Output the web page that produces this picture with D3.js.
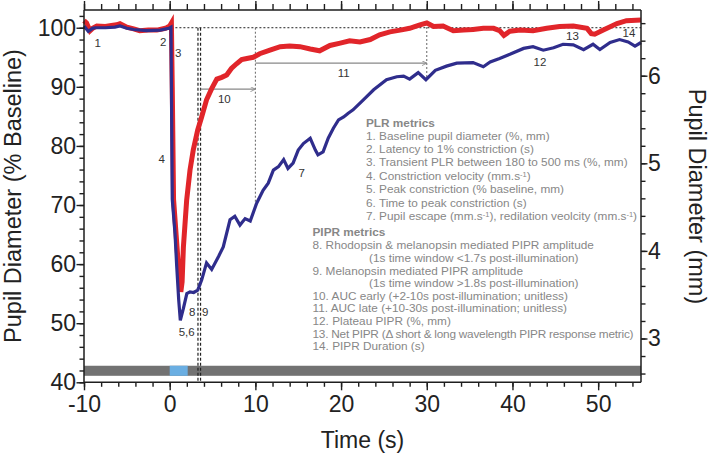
<!DOCTYPE html>
<html>
<head>
<meta charset="utf-8">
<script src="https://cdn.jsdelivr.net/npm/d3@7"></script>
<style>
  body { margin: 0; background: #fff; }
  text { font-family: "Liberation Sans", Arial, sans-serif; }
</style>
</head>
<body>
<script>
// long wavelength (red) trace, [time s, % baseline]
const redTrace = [
  [-10, 101.2], [-9.7, 100.8], [-9.3, 99.5], [-9.0, 99.9], [-8.5, 100.3], [-7.5, 100.2],
  [-6.8, 100.4], [-6.2, 100.5], [-5.8, 100.7], [-5.0, 100.1], [-4.2, 99.8], [-3.5, 99.5],
  [-2.5, 99.6], [-1.5, 99.6], [-0.5, 99.9], [0.0, 100.3], [0.2, 100.8], [0.3, 90],
  [0.45, 71], [0.75, 65], [1.0, 60], [1.3, 55.3], [1.45, 57], [1.6, 62.9], [1.98, 70.8],
  [2.37, 75.9], [2.75, 79.3], [3.27, 82.7], [3.73, 84.9], [4.3, 87.8], [4.9, 89.7],
  [5.5, 91.3], [6.07, 91.6], [6.65, 92.0], [7.2, 93.1], [7.8, 93.9], [8.4, 94.6],
  [9.0, 94.8], [9.75, 95.0], [10.5, 95.6], [11.7, 96.2], [12.9, 96.8], [14.0, 96.9],
  [15.2, 96.8], [16.4, 96.4], [17.5, 96.1], [18.7, 97.0], [19.9, 97.4], [21.0, 97.8],
  [22.2, 97.6], [23.4, 98.0], [24.5, 98.8], [25.7, 99.3], [26.9, 99.6], [28.0, 99.9],
  [29.2, 100.5], [30.0, 100.8], [30.8, 100.2], [31.9, 100.3], [33.1, 99.5], [34.3, 99.6],
  [35.4, 99.7], [36.6, 99.9], [37.8, 99.9], [38.5, 99.5], [39.0, 98.7], [39.7, 99.4],
  [40.9, 99.6], [42.4, 99.5], [44.0, 99.9], [45.5, 100.2], [47.1, 100.3], [48.7, 99.9],
  [49.2, 99.0], [49.6, 98.9], [50.6, 99.6], [52.2, 100.7], [53.3, 101.2], [55, 101.3]
];

// short wavelength (blue) trace
const blueTrace = [
  [-10, 100.3], [-9.5, 99.4], [-9.0, 99.9], [-8.7, 100.0], [-7.5, 100.0], [-6.4, 100.1],
  [-5.8, 100.3], [-5.0, 99.9], [-4.2, 99.7], [-2.7, 99.5], [-1.1, 99.6], [-0.1, 99.9],
  [0.15, 100.1], [0.3, 71], [0.62, 65.2], [0.82, 59.6], [1.05, 54], [1.24, 50.5],
  [1.6, 52.5], [2.0, 55.0], [2.37, 55.3], [2.8, 55.2], [3.27, 55.6], [3.73, 57.3],
  [4.3, 60.2], [4.9, 59.1], [5.7, 61.3], [6.25, 62.9], [7.04, 67.5], [7.6, 68.1],
  [8.2, 66.6], [8.8, 67.7], [9.4, 67.3], [10.15, 70.3], [10.9, 72.5], [11.5, 73.7],
  [12.1, 75.9], [12.7, 76.5], [13.3, 77.7], [13.8, 76.2], [14.4, 77.1], [15.0, 79.3],
  [15.6, 80.4], [16.4, 81.3], [17.0, 79.3], [17.3, 78.5], [17.9, 79.0], [18.5, 81.3],
  [19.1, 83.0], [19.7, 84.4], [20.3, 84.9], [20.8, 85.5], [21.4, 86.1], [22.6, 87.8],
  [23.8, 89.5], [25.3, 91.2], [26.5, 91.7], [27.3, 91.8], [28.0, 91.3], [29.0, 92.4],
  [29.9, 91.2], [31.0, 92.8], [32.3, 93.5], [33.5, 94.0], [35.4, 94.1], [36.6, 93.4],
  [37.4, 94.2], [38.5, 94.8], [39.7, 95.5], [41.3, 96.5], [42.4, 96.8], [43.6, 96.2],
  [44.8, 96.6], [45.9, 97.2], [47.1, 97.1], [48.3, 96.3], [49.4, 97.2], [50.2, 96.3],
  [51.4, 97.5], [52.5, 98.0], [53.5, 97.6], [54.3, 96.9], [55, 97.5]
];

const xTicks = [-10, 0, 10, 20, 30, 40, 50];
const pctTicks = [40, 50, 60, 70, 80, 90, 100];
const mmTicks = [3, 4, 5, 6];

const lightOn = [0, 2.1];          // stimulus on the bar
const barRange = [41.1, 42.8];     // % band of the bar
const windowLines = [3.3, 3.6];    // PIPR window markers
const aucArrows = [
  { from: 3.6, to: 10, at: 89.6 },
  { from: 10, to: 30, at: 94.0 }
];
const aucEdges = [10, 30];

const metricLabels = [
  { text: '1', t: -8.4, v: 97.45 }, { text: '2', t: -0.75, v: 97.55 },
  { text: '3', t: 1.0, v: 95.7 }, { text: '4', t: -0.93, v: 77.8 },
  { text: '5,6', t: 1.98, v: 48.56 }, { text: '8', t: 2.64, v: 51.95 },
  { text: '9', t: 4.15, v: 51.95 }, { text: '7', t: 15.4, v: 75.5 },
  { text: '10', t: 6.37, v: 87.9 }, { text: '11', t: 20.3, v: 92.3 },
  { text: '12', t: 43.2, v: 94.25 }, { text: '13', t: 47.0, v: 98.6 },
  { text: '14', t: 53.6, v: 99.05 }
];

const plrLines = [
  '1. Baseline pupil diameter (%, mm)',
  '2. Latency to 1% constriction (s)',
  '3. Transient PLR between 180 to 500 ms (%, mm)',
  '4. Constriction velocity (mm.s|-1|)',
  '5. Peak constriction (% baseline, mm)',
  '6. Time to peak constriction (s)',
  '7. Pupil escape (mm.s|-1|), redilation veolcity (mm.s|-1|)'
];
const piprLines = [
  { text: '8. Rhodopsin & melanopsin mediated PIPR amplitude', indent: 0 },
  { text: '(1s time window <1.7s post-illumination)', indent: 1 },
  { text: '9. Melanopsin mediated PIPR amplitude', indent: 0 },
  { text: '(1s time window >1.8s post-illumination)', indent: 1 },
  { text: '10. AUC early (+2-10s post-illumination; unitless)', indent: 0 },
  { text: '11. AUC late (+10-30s post-illumination; unitless)', indent: 0 },
  { text: '12. Plateau PIPR (%, mm)', indent: 0 },
  { text: '13. Net PIPR (\u0394 short & long wavelength PIPR response metric)', indent: 0 },
  { text: '14. PIPR Duration (s)', indent: 0 }
];

const width = 709;
const height = 457;
const margin = { top: 10, right: 68, bottom: 74.7, left: 84 };
const innerW = width - margin.left - margin.right;
const innerH = height - margin.top - margin.bottom;

const xScale = d3.scaleLinear().domain([-10, 55]).range([0, innerW]);
const yScale = d3.scaleLinear().domain([40, 103]).range([innerH, 0]);
const mmScale = d3.scaleLinear().domain([2.5, 6.75]).range([innerH, 0]);

const axisColor = '#1e1e1e';
const noteGray = '#878787';

const svg = d3.select('body')
  .append('svg')
  .attr('width', width)
  .attr('height', height);

svg.append('defs').append('marker')
  .attr('id', 'head')
  .attr('viewBox', '0 0 6 6')
  .attr('refX', 6).attr('refY', 3)
  .attr('markerWidth', 5).attr('markerHeight', 5)
  .attr('markerUnits', 'userSpaceOnUse')
  .attr('orient', 'auto')
  .append('path')
  .attr('d', 'M0,0 L6,3 L0,6')
  .attr('fill', 'none')
  .attr('stroke', '#888')
  .attr('stroke-width', 1);

const graph = svg.append('g')
  .attr('transform', 'translate(' + margin.left + ',' + margin.top + ')');

// grey bar with light stimulus
graph.append('rect')
  .attr('x', xScale(-10))
  .attr('width', xScale(55) - xScale(-10))
  .attr('y', yScale(barRange[1]))
  .attr('height', yScale(barRange[0]) - yScale(barRange[1]))
  .attr('fill', '#727272');
graph.append('rect')
  .attr('x', xScale(lightOn[0]))
  .attr('width', xScale(lightOn[1]) - xScale(lightOn[0]))
  .attr('y', yScale(barRange[1]))
  .attr('height', yScale(barRange[0]) - yScale(barRange[1]))
  .attr('fill', '#6aaee2');

// 100% reference line
graph.append('line')
  .attr('x1', xScale(0.2)).attr('x2', xScale(55))
  .attr('y1', yScale(100)).attr('y2', yScale(100))
  .attr('stroke', '#222').attr('stroke-width', 1)
  .attr('stroke-dasharray', '2,2');

// PIPR window lines
graph.selectAll('.window')
  .data(windowLines)
  .enter()
  .append('line')
  .attr('x1', d => xScale(d)).attr('x2', d => xScale(d))
  .attr('y1', yScale(100)).attr('y2', yScale(40))
  .attr('stroke', '#222').attr('stroke-width', 1.2)
  .attr('stroke-dasharray', '3,2');

const valueAt = (trace, t) => {
  const i = d3.bisector(d => d[0]).left(trace, t);
  const a = trace[Math.max(0, i - 1)], b = trace[Math.min(trace.length - 1, i)];
  if (a[0] === b[0]) return a[1];
  return a[1] + (b[1] - a[1]) * (t - a[0]) / (b[0] - a[0]);
};

// AUC edges
graph.selectAll('.edge')
  .data(aucEdges)
  .enter()
  .append('line')
  .attr('x1', d => xScale(d)).attr('x2', d => xScale(d))
  .attr('y1', d => yScale(Math.max(100, valueAt(redTrace, d))))
  .attr('y2', d => yScale(valueAt(blueTrace, d)))
  .attr('stroke', '#555').attr('stroke-width', 0.9)
  .attr('stroke-dasharray', '2,2');

// AUC arrows
graph.selectAll('.arrow')
  .data(aucArrows)
  .enter()
  .append('line')
  .attr('x1', d => xScale(d.from)).attr('x2', d => xScale(d.to))
  .attr('y1', d => yScale(d.at)).attr('y2', d => yScale(d.at))
  .attr('stroke', '#888').attr('stroke-width', 1.3)
  .attr('marker-end', 'url(#head)');

const line = d3.line()
  .x(d => xScale(d[0]))
  .y(d => yScale(d[1]));

graph.append('path')
  .datum(redTrace)
  .attr('d', line)
  .attr('fill', 'none')
  .attr('stroke', '#e1252a')
  .attr('stroke-width', 5);

graph.append('path')
  .datum(blueTrace)
  .attr('d', line)
  .attr('fill', 'none')
  .attr('stroke', '#2f2d8c')
  .attr('stroke-width', 3.2);

// metric numbers
graph.selectAll('.metric')
  .data(metricLabels)
  .enter()
  .append('text')
  .attr('x', d => xScale(d.t))
  .attr('y', d => yScale(d.v))
  .attr('dy', '0.36em')
  .attr('text-anchor', 'middle')
  .attr('font-size', 11.5)
  .attr('fill', '#333')
  .text(d => d.text);

// notes, "|" marks a superscript
const addRich = (sel, str) => {
  str.split('|').forEach((part, i) => {
    if (!part) return;
    const span = sel.append('tspan').text(part);
    if (i % 2 === 1) {
      span.attr('font-size', 7.5).attr('baseline-shift', 3.5);
    }
  });
};

const notes = svg.append('g').attr('fill', noteGray).attr('font-size', 11.8);
notes.append('text')
  .attr('x', 366).attr('y', 126.5)
  .attr('font-weight', 'bold')
  .text('PLR metrics');
notes.selectAll('.plr')
  .data(plrLines)
  .enter()
  .append('text')
  .attr('x', 366)
  .attr('y', (d, i) => 139.5 + i * 13.4)
  .each(function(d) { addRich(d3.select(this), d); });

notes.append('text')
  .attr('x', 312.5).attr('y', 236)
  .attr('font-weight', 'bold')
  .text('PIPR metrics');
notes.selectAll('.pipr')
  .data(piprLines)
  .enter()
  .append('text')
  .attr('x', d => d.indent ? 369 : 312.5)
  .attr('y', (d, i) => 249.4 + i * 12.6)
  .attr('textLength', d => d.text.startsWith('13.') ? 321 : null)
  .text(d => d.text);

// axes
const styleAxis = (g, size) => {
  g.select('.domain').remove();
  g.selectAll('line').attr('stroke', axisColor).attr('stroke-width', 1.4);
  g.selectAll('text')
    .attr('font-size', size)
    .attr('fill', '#222')
    .attr('font-family', '"Liberation Sans", Arial, sans-serif');
};

const minorX = d3.range(-10, 55.1, 2);
const minorPct = d3.range(40, 103.1, 2);
const minorMm = d3.range(2.6, 6.75, 0.2);

graph.append('g')
  .attr('transform', 'translate(0,' + innerH + ')')
  .call(d3.axisBottom(xScale).tickValues(minorX).tickSize(4.5).tickFormat(''))
  .call(g => styleAxis(g, 0));
graph.append('g')
  .attr('transform', 'translate(0,' + innerH + ')')
  .call(d3.axisBottom(xScale).tickValues(xTicks).tickSize(8).tickPadding(5.4)
    .tickFormat(d => String(d)))
  .call(g => styleAxis(g, 23));

graph.append('g')
  .call(d3.axisTop(xScale).tickValues(minorX).tickSize(6).tickFormat(''))
  .call(g => styleAxis(g, 0));
graph.append('g')
  .call(d3.axisTop(xScale).tickValues(xTicks).tickSize(9).tickFormat(''))
  .call(g => styleAxis(g, 0));

graph.append('g')
  .call(d3.axisLeft(yScale).tickValues(minorPct).tickSize(4.5).tickFormat(''))
  .call(g => styleAxis(g, 0));
graph.append('g')
  .call(d3.axisLeft(yScale).tickValues(pctTicks).tickSize(7.5).tickPadding(0.5)
    .tickFormat(d => String(d)))
  .call(g => styleAxis(g, 23));

graph.append('g')
  .attr('transform', 'translate(' + innerW + ',0)')
  .call(d3.axisRight(mmScale).tickValues(minorMm).tickSize(4.5).tickFormat(''))
  .call(g => styleAxis(g, 0));
graph.append('g')
  .attr('transform', 'translate(' + innerW + ',0)')
  .call(d3.axisRight(mmScale).tickValues(mmTicks).tickSize(6.5).tickPadding(0.5)
    .tickFormat(d => String(d)))
  .call(g => styleAxis(g, 23));

// frame lines
graph.append('path')
  .attr('d', 'M0,' + innerH + 'H' + innerW + 'M0,0H' + innerW + 'M0,0V' + innerH + 'M' + innerW + ',0V' + innerH)
  .attr('stroke', axisColor)
  .attr('stroke-width', 1.5)
  .attr('fill', 'none');

// axis titles
svg.append('text')
  .attr('transform', 'translate(21,196) rotate(-90)')
  .attr('text-anchor', 'middle')
  .attr('font-size', 23.5)
  .attr('fill', '#222')
  .text('Pupil Diameter (% Baseline)');

svg.append('text')
  .attr('transform', 'translate(689,196.5) rotate(90)')
  .attr('text-anchor', 'middle')
  .attr('font-size', 23.5)
  .attr('fill', '#222')
  .text('Pupil Diameter (mm)');

svg.append('text')
  .attr('x', margin.left + innerW / 2)
  .attr('y', 448)
  .attr('text-anchor', 'middle')
  .attr('font-size', 23)
  .attr('fill', '#222')
  .text('Time (s)');
</script>
</body>
</html>
